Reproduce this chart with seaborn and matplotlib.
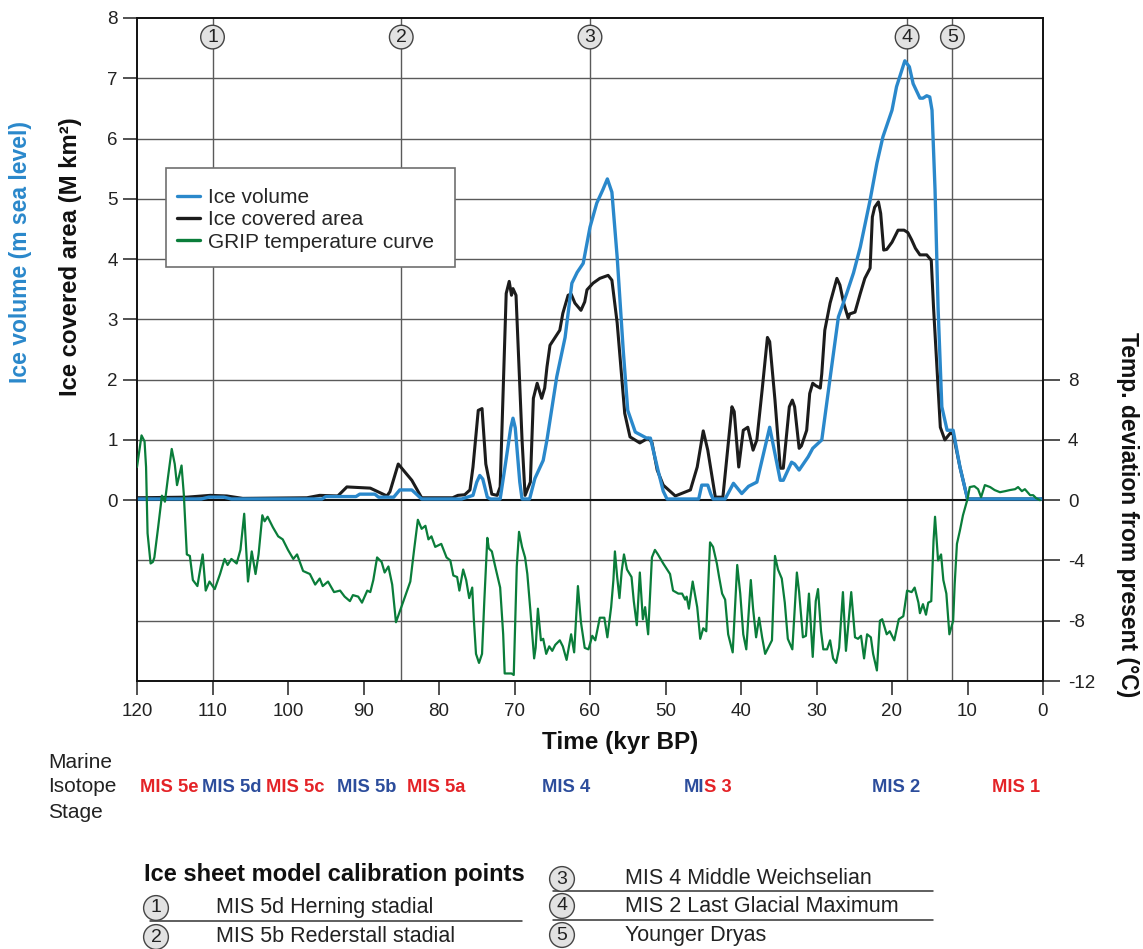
import matplotlib
matplotlib.use("Agg")
import matplotlib.pyplot as plt
from matplotlib.lines import Line2D
from matplotlib.patches import Rectangle
import numpy as np
import pandas as pd
import seaborn as sns

# ---------------- data ----------------
# Ice volume (m sea level) vs time (kyr BP)
vol_kyr = [120, 111.5, 110.5, 108.5, 107.5, 95.5, 95.0, 91.0, 90.5, 88.5, 88.0, 86.0,
           85.2, 83.6, 82.3, 77.0, 75.5, 75.0, 74.6, 74.2, 73.6, 73.2, 71.9, 71.2, 70.5,
           70.2, 69.9, 69.3, 69.0, 68.0, 67.3, 66.2, 65.7, 64.4, 63.3, 62.4, 61.7, 60.9,
           60.0, 59.1, 58.3, 57.7, 57.1, 56.4, 55.6, 55.0, 54.0, 52.5, 52.0, 51.0, 50.3,
           49.8, 45.6, 45.2, 44.4, 44.0, 43.7, 42.1, 41.0, 39.9, 39.0, 37.9, 36.2, 34.8,
           34.4, 33.3, 32.9, 32.3, 31.1, 30.5, 29.3, 28.0, 27.1, 26.0, 25.1, 24.2, 22.9,
           22.0, 21.2, 20.0, 19.4, 18.3, 17.7, 17.2, 16.3, 15.9, 15.4, 15.0, 14.7, 14.3,
           13.9, 13.4, 12.7, 11.9, 11.0, 10.0, 0.0]
vol_val = [0.02, 0.02, 0.05, 0.05, 0.02, 0.02, 0.06, 0.06, 0.10, 0.10, 0.05, 0.05,
           0.17, 0.17, 0.02, 0.02, 0.08, 0.30, 0.41, 0.35, 0.05, 0.02, 0.02, 0.60, 1.20,
           1.36, 1.20, 0.30, 0.02, 0.02, 0.36, 0.66, 1.00, 2.05, 2.70, 3.60, 3.78, 3.93,
           4.53, 4.93, 5.15, 5.33, 5.11, 4.03, 2.49, 1.49, 1.13, 1.03, 1.03, 0.50, 0.15,
           0.02, 0.02, 0.25, 0.25, 0.10, 0.02, 0.02, 0.28, 0.11, 0.23, 0.30, 1.21, 0.33,
           0.33, 0.63, 0.60, 0.50, 0.72, 0.86, 1.00, 2.21, 3.04, 3.43, 3.77, 4.20, 4.98,
           5.59, 6.03, 6.47, 6.86, 7.29, 7.19, 6.91, 6.67, 6.67, 6.71, 6.69, 6.47, 5.15,
           3.20, 1.55, 1.16, 1.16, 0.55, 0.02, 0.02]

# Ice covered area (M km2)
area_kyr = [120, 113.4, 110.3, 108.1, 106.0, 97.5, 95.8, 93.4, 92.2, 89.1, 86.9, 86.5,
            85.4, 83.6, 82.3, 78.2, 77.5, 76.6, 75.9, 75.5, 74.8, 74.3, 73.8, 73.0, 72.3,
            71.9, 71.1, 70.7, 70.4, 70.2, 69.8, 69.0, 68.6, 67.9, 67.5, 67.0, 66.4, 66.0,
            65.7, 65.3, 64.0, 63.6, 62.9, 62.5, 62.0, 61.2, 60.7, 60.4, 59.6, 58.7, 57.6,
            57.1, 56.4, 55.8, 55.4, 54.7, 53.4, 52.3, 51.8, 51.1, 50.3, 48.7, 46.7, 45.8,
            45.0, 44.4, 43.4, 42.4, 41.2, 40.9, 40.3, 39.7, 39.1, 38.4, 37.9, 37.2, 36.5,
            36.2, 35.5, 34.8, 34.4, 33.6, 33.2, 32.9, 32.3, 32.0, 31.3, 30.9, 30.5, 30.1,
            29.5, 29.3, 28.9, 28.2, 27.3, 26.9, 26.4, 25.8, 25.6, 24.9, 24.2, 23.6, 22.9,
            22.6, 22.3, 21.8, 21.5, 21.1, 20.7, 20.0, 19.2, 18.4, 17.9, 17.4, 16.9, 16.3,
            15.4, 14.8, 14.5, 14.0, 13.6, 13.0, 12.3, 11.9, 11.0, 10.0, 0.0]
area_val = [0.04, 0.05, 0.08, 0.07, 0.03, 0.04, 0.08, 0.07, 0.22, 0.20, 0.07, 0.14,
            0.60, 0.33, 0.04, 0.04, 0.08, 0.09, 0.17, 0.55, 1.49, 1.52, 0.60, 0.10, 0.08,
            0.22, 3.43, 3.63, 3.40, 3.51, 3.40, 1.00, 0.08, 0.30, 1.69, 1.94, 1.69, 1.86,
            2.21, 2.57, 2.82, 3.10, 3.40, 3.42, 3.27, 3.15, 3.29, 3.49, 3.60, 3.68, 3.73,
            3.65, 2.94, 2.04, 1.44, 1.05, 0.95, 1.03, 0.96, 0.50, 0.25, 0.07, 0.17, 0.55,
            1.15, 0.83, 0.05, 0.05, 1.55, 1.47, 0.55, 1.16, 1.21, 0.83, 1.00, 1.83, 2.70,
            2.63, 1.66, 0.53, 0.53, 1.55, 1.66, 1.55, 0.86, 0.90, 1.16, 1.77, 1.94, 1.90,
            1.86, 2.10, 2.82, 3.27, 3.68, 3.57, 3.27, 3.02, 3.09, 3.12, 3.43, 3.68, 3.85,
            4.70, 4.86, 4.95, 4.76, 4.15, 4.16, 4.28, 4.48, 4.48, 4.44, 4.32, 4.18, 4.07,
            4.07, 3.98, 3.20, 2.10, 1.21, 1.00, 1.11, 1.10, 0.55, 0.02, 0.02]

# GRIP temperature deviation from present (deg C)
temp_kyr = [120, 119.4, 119.0, 118.8, 118.6, 118.2, 117.9, 117.7, 117.2, 116.7, 116.3,
            115.9, 115.4, 115.0, 114.7, 114.1, 113.8, 113.4, 113.0, 112.6, 112.0, 111.3,
            110.9, 110.4, 109.7, 109.0, 108.4, 108.0, 107.5, 106.8, 106.3, 105.8, 105.3,
            104.8, 104.3, 103.9, 103.4, 103.1, 102.7, 102.0, 101.3, 100.7, 100.0, 99.3,
            98.8, 98.0, 97.1, 96.4, 95.8, 95.4, 94.7, 93.9, 93.1, 92.5, 91.8, 91.4, 90.7,
            90.2, 89.5, 89.1, 88.7, 88.2, 87.6, 87.2, 86.7, 86.2, 85.7, 85.2, 84.5, 83.8,
            83.3, 82.8, 82.3, 81.8, 81.4, 81.0, 80.5, 79.7, 79.0, 78.5, 78.1, 77.6, 77.3,
            76.8, 76.4, 76.0, 75.6, 75.4, 75.1, 74.7, 74.3, 74.0, 73.6, 73.4, 73.0, 72.6,
            71.9, 71.5, 71.3, 70.9, 70.4, 70.1, 69.7, 69.4, 69.0, 68.6, 68.3, 67.9, 67.4,
            67.2, 66.9, 66.5, 66.2, 65.8, 65.4, 65.0, 64.6, 64.0, 63.6, 63.1, 62.5, 62.1,
            61.6, 61.2, 60.7, 60.2, 59.7, 59.3, 58.7, 58.1, 57.7, 57.2, 56.9, 56.7, 56.4,
            56.1, 55.8, 55.5, 55.1, 54.5, 54.2, 53.8, 53.4, 53.0, 52.7, 52.3, 51.8, 51.4,
            51.0, 50.3, 49.4, 49.0, 48.3, 47.8, 47.4, 47.2, 46.9, 46.4, 45.8, 45.4, 45.0,
            44.6, 44.1, 43.7, 43.2, 42.9, 42.5, 42.1, 41.7, 41.1, 40.5, 40.1, 39.7, 39.3,
            38.7, 38.4, 38.0, 37.6, 37.2, 36.8, 36.4, 35.9, 35.5, 35.1, 34.6, 34.2, 33.8,
            33.2, 32.6, 32.3, 31.8, 31.4, 31.0, 30.5, 30.1, 29.8, 29.4, 29.1, 28.6, 28.2,
            27.8, 27.4, 27.0, 26.5, 26.1, 25.4, 24.9, 24.5, 24.1, 23.7, 23.3, 22.8, 22.5,
            22.0, 21.6, 21.3, 20.7, 20.3, 19.7, 19.1, 18.5, 18.0, 17.4, 17.0, 16.5, 16.3,
            15.9, 15.5, 15.2, 14.8, 14.5, 14.3, 13.9, 13.5, 13.2, 12.8, 12.4, 11.9, 11.7,
            11.4, 11.0, 10.6, 10.0, 9.7, 9.1, 8.6, 8.2, 7.7, 7.0, 6.4, 5.7, 5.0, 4.4, 3.7,
            3.3, 2.8, 2.4, 1.7, 1.3, 0.9, 0.4]
temp_val = [2.2, 4.3, 3.9, 2.2, -2.2, -4.2, -4.1, -3.8, -1.8, 0.3, -0.1,
            1.5, 3.4, 2.4, 1.0, 2.3, 0.4, -3.6, -3.7, -5.3, -5.7, -3.6,
            -6.0, -5.4, -5.9, -4.9, -3.9, -4.3, -3.9, -4.2, -3.3, -0.9, -5.4,
            -3.4, -4.9, -3.6, -1.0, -1.4, -1.1, -1.8, -2.4, -2.6, -3.3, -3.9,
            -3.6, -4.7, -4.9, -5.6, -5.2, -5.7, -5.4, -6.1, -6.0, -6.4, -6.7, -6.3, -6.4,
            -6.8, -6.0, -6.1, -5.3, -3.8, -4.1, -4.8, -4.4, -5.6, -8.1, -7.4, -6.4, -5.4,
            -3.3, -1.3, -1.9, -1.7, -2.6, -2.4, -3.1, -2.9, -3.8, -4.0, -5.0, -5.1, -6.0,
            -4.6, -5.3, -6.5, -5.8, -7.8, -10.2, -10.8, -10.2, -6.7, -2.5, -3.2, -3.4, -4.3,
            -5.8, -8.9, -11.5, -11.5, -11.5, -11.6, -4.4, -2.1, -3.1, -3.8, -4.9, -7.3, -10.5,
            -9.8, -7.2, -9.3, -9.2, -10.2, -9.7, -10.0, -9.6, -9.3, -9.7, -10.6, -8.9, -10.1,
            -5.7, -8.1, -9.8, -9.9, -9.0, -9.3, -7.8, -7.8, -9.1, -7.1, -5.3, -3.4, -5.1,
            -6.5, -4.7, -3.6, -4.6, -5.1, -6.7, -8.3, -4.8, -7.9, -7.1, -8.9, -3.8, -3.3,
            -3.6, -4.2, -4.9, -6.0, -6.2, -6.2, -6.6, -6.4, -7.2, -5.4, -7.1, -9.2, -8.5,
            -8.7, -2.8, -3.1, -4.2, -5.1, -6.2, -6.6, -8.9, -10.1, -4.3, -6.2, -8.9, -9.9,
            -5.3, -7.2, -9.1, -7.8, -9.1, -10.2, -9.8, -9.3, -3.7, -4.6, -5.2, -6.8, -9.2,
            -9.9, -4.8, -6.1, -9.1, -9.0, -6.2, -10.4, -6.7, -5.9, -8.7, -9.9, -9.9, -9.3,
            -10.5, -10.8, -9.8, -6.1, -10.0, -6.1, -9.1, -9.2, -9.0, -10.5, -8.9, -9.1, -10.2,
            -11.3, -8.0, -7.9, -8.9, -8.7, -9.3, -7.9, -7.7, -6.0, -6.1, -5.8, -6.8, -7.5,
            -6.9, -7.6, -6.8, -6.7, -2.7, -1.1, -4.0, -3.6, -5.3, -6.2, -8.9, -8.0, -5.6,
            -2.9, -2.0, -1.0, 0.07, 0.87, 0.93, 0.73, 0.2, 1.0, 0.87, 0.67, 0.53, 0.6, 0.67, 0.73,
            0.87, 0.6, 0.73, 0.33, 0.33, 0.13, 0.0]

calib_kyr = [110, 85, 60, 18, 12]
calib_num = ["1", "2", "3", "4", "5"]
calib_text = ["MIS 5d Herning stadial", "MIS 5b Rederstall stadial",
              "MIS 4 Middle Weichselian", "MIS 2 Last Glacial Maximum", "Younger Dryas"]

mis_labels = ["MIS 5e", "MIS 5d", "MIS 5c", "MIS 5b", "MIS 5a", "MIS 4", "MIS 2", "MIS 1"]
mis_xpx = [169, 232, 295, 367, 436, 566, 896, 1016]
mis_warm = [True, False, True, False, True, False, False, True]

x_ticks = list(range(120, -1, -10))
left_ticks = list(range(0, 9))
right_ticks = [-12, -8, -4, 0, 4, 8]

# ---------------- style ----------------
BLUE = "#2a88cb"
BLACK = "#1c1c1c"
GREEN = "#0a7d3a"
RED_MIS = "#e42327"
BLUE_MIS = "#2c4d9c"
GRID = "#5a5a5a"

sns.set_theme(style="white")
plt.rcParams["font.family"] = ["Liberation Sans", "DejaVu Sans"]
plt.rcParams["axes.linewidth"] = 1.2
plt.rcParams["axes.unicode_minus"] = False

W, H = 1143, 949
fig = plt.figure(figsize=(W / 100, H / 100), dpi=100)
fig.patch.set_facecolor("white")


def fx(px):
    return px / W


def fy(py):
    return 1 - py / H


ax = fig.add_axes([fx(137), fy(681), (1043 - 137) / W, (681 - 18) / H])
ax.set_xlim(120, 0)
ax.set_ylim(-3, 8)

# horizontal grid
for v in [1, 2, 3, 4, 5, 6, 7, -1, -2]:
    ax.axhline(v, color=GRID, lw=1.0, zorder=0)
ax.axhline(0, color="#111111", lw=1.5, zorder=1)

# calibration point verticals
for k in calib_kyr:
    ax.axvline(k, color=GRID, lw=1.0, zorder=0)

df_area = pd.DataFrame({"kyr": area_kyr, "val": area_val})
df_vol = pd.DataFrame({"kyr": vol_kyr, "val": vol_val})
df_temp = pd.DataFrame({"kyr": temp_kyr, "val": temp_val})

sns.lineplot(data=df_area, x="kyr", y="val", ax=ax, color=BLACK, lw=2.2,
             estimator=None, sort=False, legend=False, zorder=3)
sns.lineplot(data=df_vol, x="kyr", y="val", ax=ax, color=BLUE, lw=2.4,
             estimator=None, sort=False, legend=False, zorder=4)

ax2 = ax.twinx()
ax2.set_ylim(-12, 32)
sns.lineplot(data=df_temp, x="kyr", y="val", ax=ax2, color=GREEN, lw=1.6,
             estimator=None, sort=False, legend=False, zorder=5)
ax2.set_xlim(120, 0)

# circled calibration markers on top
for k, n in zip(calib_kyr, calib_num):
    ax2.text(k, 32 - 19 / 15.0, n, ha="center", va="center", fontsize=14, color="#222",
             bbox=dict(boxstyle="circle,pad=0.17", fc="#e2e2e2", ec="#444", lw=1.0),
             zorder=10)

# axes cosmetics
ax.set_xticks(x_ticks)
ax.set_xticklabels([str(t) for t in x_ticks])
ax.set_yticks(left_ticks)
ax2.set_yticks(right_ticks)
ax.set_xlabel("")
ax.set_ylabel("")
ax2.set_ylabel("")
ax.tick_params(axis="x", direction="out", length=10, width=1.1, pad=6,
               labelsize=13.5, colors="#222", bottom=True)
ax.tick_params(axis="y", direction="out", length=10, width=1.1, pad=4,
               labelsize=13.5, colors="#222", left=True)
ax2.tick_params(axis="y", direction="out", length=12, width=1.1, pad=6,
                labelsize=13.5, colors="#222", right=True)
for a in (ax, ax2):
    for s in a.spines.values():
        s.set_color("#111")
        s.set_linewidth(1.2)
        s.set_visible(True)

# legend: white panel with a grey border, entries on top of it
panel = Rectangle((fx(166), fy(267)), (455 - 166) / W, (267 - 168) / H,
                  transform=fig.transFigure, facecolor="white", edgecolor="#707070",
                  lw=1.2, zorder=15)
ax2.add_artist(panel)
handles = [Line2D([], [], color=BLUE, lw=2.4, label="Ice volume"),
           Line2D([], [], color=BLACK, lw=2.4, label="Ice covered area"),
           Line2D([], [], color=GREEN, lw=2.4, label="GRIP temperature curve")]
leg = ax2.legend(handles=handles, loc="upper left",
                 bbox_to_anchor=((177 - 137) / 906, (681 - 188) / 663),
                 borderaxespad=0, borderpad=0, fontsize=15, frameon=False,
                 handlelength=1.1, handletextpad=0.4, labelspacing=0.16)
leg.set_zorder(20)

# axis titles
fig.text(fx(21), fy(252), "Ice volume (m sea level)", rotation=90, ha="center",
         va="center", fontsize=16.5, fontweight="bold", color=BLUE)
fig.text(fx(71), fy(257), "Ice covered area (M km²)", rotation=90, ha="center",
         va="center", fontsize=17.2, fontweight="bold", color="#111")
fig.text(fx(1128), fy(515), "Temp. deviation from present (°C)", rotation=-90,
         ha="center", va="center", fontsize=16.5, fontweight="bold", color="#111")
fig.text(fx(620), fy(742), "Time (kyr BP)", ha="center", va="center",
         fontsize=17.5, fontweight="bold", color="#111")

# marine isotope stages
for i, word in enumerate(["Marine", "Isotope", "Stage"]):
    fig.text(fx(48), fy(762 + 25 * i), word, ha="left", va="center", fontsize=15,
             color="#222")
for lab, xp, warm in zip(mis_labels, mis_xpx, mis_warm):
    fig.text(fx(xp), fy(787), lab, ha="center", va="center", fontsize=13.2,
             fontweight="bold", color=RED_MIS if warm else BLUE_MIS)
fig.text(fx(704), fy(787), "MI", ha="right", va="center", fontsize=13.2,
         fontweight="bold", color=BLUE_MIS)
fig.text(fx(704.5), fy(787), "S 3", ha="left", va="center", fontsize=13.2,
         fontweight="bold", color=RED_MIS)

# calibration point table
fig.text(fx(144), fy(874), "Ice sheet model calibration points", ha="left",
         va="center", fontsize=17, fontweight="bold", color="#111")
rows = [(156, 908, 216), (156, 937, 216), (562, 879, 625), (562, 906, 625), (562, 935, 625)]
for (cx, cy, tx), n, t in zip(rows, calib_num, calib_text):
    fig.text(fx(cx), fy(cy), n, ha="center", va="center", fontsize=14, color="#222",
             bbox=dict(boxstyle="circle,pad=0.2", fc="#e2e2e2", ec="#444", lw=1.0))
    fig.text(fx(tx), fy(cy), t, ha="left", va="center", fontsize=15.5, color="#222")
for x0, x1, yy in [(150, 522, 921), (553, 933, 891), (553, 933, 920)]:
    fig.add_artist(Line2D([fx(x0), fx(x1)], [fy(yy), fy(yy)], transform=fig.transFigure,
                          color="#333", lw=1.1))

fig.savefig("out.png", dpi=100, facecolor="white")
